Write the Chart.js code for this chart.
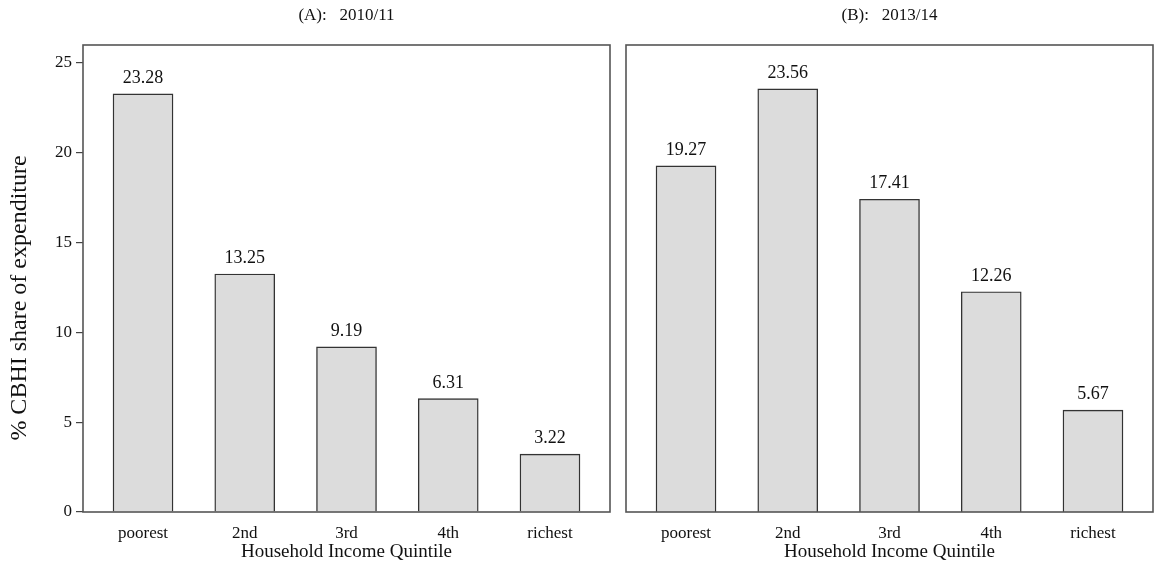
<!DOCTYPE html>
<html>
<head>
<meta charset="utf-8">
<script src="https://cdn.jsdelivr.net/npm/chart.js@4.4.1/dist/chart.umd.min.js"></script>
<style>
  html, body { margin: 0; padding: 0; background: #fff; }
  #wrap { position: relative; width: 1160px; height: 565px; }
  #cA { position: absolute; left: 0; top: 0; }
  #cB { position: absolute; left: 614px; top: 0; }
</style>
</head>
<body>
<div id="wrap">
  <canvas id="cA" width="614" height="565"></canvas>
  <canvas id="cB" width="546" height="565"></canvas>
</div>
<script>
// Quintile categories and CBHI share of expenditure (%)
const quintiles = ['poorest', '2nd', '3rd', '4th', 'richest'];
const share2010 = [23.28, 13.25, 9.19, 6.31, 3.22];
const share2013 = [19.27, 23.56, 17.41, 12.26, 5.67];
const panelTitles = ['(A):   2010/11', '(B):   2013/14'];
const yTicks = [0, 5, 10, 15, 20, 25];
const yTitle = '% CBHI share of expenditure';

const SERIF = '"Liberation Serif", "Times New Roman", serif';
const TEXT = '#111';

// Frame, panel heading, value labels and the shared y-axis caption
const panelDecor = {
  id: 'panelDecor',
  afterDatasetsDraw(chart, args, opts) {
    const { ctx, chartArea: a } = chart;
    ctx.save();
    ctx.strokeStyle = '#555';
    ctx.lineWidth = 1.6;
    ctx.strokeRect(a.left, a.top, a.right - a.left, a.bottom - a.top);

    ctx.fillStyle = TEXT;
    ctx.font = '17px ' + SERIF;
    ctx.textAlign = 'center';
    ctx.textBaseline = 'middle';
    ctx.fillText(opts.heading, (a.left + a.right) / 2, 16);

    ctx.font = '18px ' + SERIF;
    ctx.textBaseline = 'alphabetic';
    const meta = chart.getDatasetMeta(0);
    meta.data.forEach((bar, i) => {
      const v = chart.data.datasets[0].data[i].y;
      ctx.fillText(v.toFixed(2), bar.x, bar.y - 11);
    });

    if (opts.caption) {
      ctx.save();
      ctx.translate(20, 298);
      ctx.rotate(-Math.PI / 2);
      ctx.font = '24px ' + SERIF;
      ctx.textAlign = 'center';
      ctx.textBaseline = 'middle';
      ctx.fillText(opts.caption, 0, 0);
      ctx.restore();
    }
    ctx.restore();
  }
};

function makePanel(canvasId, values, heading, showY, padLeft, padRight) {
  const yAxisWidth = 83;
  return new Chart(document.getElementById(canvasId), {
    type: 'bar',
    data: {
      datasets: [{
        data: values.map((v, i) => ({ x: i, y: v })),
        backgroundColor: '#dcdcdc',
        borderColor: '#333',
        borderWidth: 1.4,
        borderSkipped: 'bottom',
        barThickness: 60
      }]
    },
    options: {
      responsive: false,
      animation: false,
      devicePixelRatio: 1,
      layout: { padding: { left: padLeft, right: padRight, top: 45, bottom: 0 } },
      plugins: {
        legend: { display: false },
        tooltip: { enabled: false },
        panelDecor: { heading: heading, caption: showY ? yTitle : null }
      },
      scales: {
        x: {
          type: 'linear',
          offset: false,
          min: -0.59,
          max: 4.59,
          afterBuildTicks: s => { s.ticks = quintiles.map((q, i) => ({ value: i })); },
          afterFit: s => { s.height = 53; },
          grid: { display: false, offset: false },
          border: { display: false },
          ticks: {
            autoSkip: false,
            maxRotation: 0,
            padding: 3,
            color: TEXT,
            font: { family: SERIF, size: 17 },
            callback: v => quintiles[v]
          },
          title: {
            display: true,
            text: 'Household Income Quintile',
            color: TEXT,
            font: { family: SERIF, size: 19 },
            padding: { top: 0, bottom: 2 }
          }
        },
        y: {
          display: showY,
          min: 0,
          max: 26,
          afterBuildTicks: s => { s.ticks = yTicks.map(v => ({ value: v })); },
          afterFit: s => { if (showY) s.width = yAxisWidth; },
          grid: {
            drawOnChartArea: false,
            drawTicks: true,
            tickLength: 7,
            color: '#444',
            lineWidth: 1.2
          },
          border: { display: false },
          ticks: {
            padding: 4,
            color: TEXT,
            font: { family: SERIF, size: 17 }
          }
        }
      }
    },
    plugins: [panelDecor]
  });
}

makePanel('cA', share2010, panelTitles[0], true, 0, 4);
makePanel('cB', share2013, panelTitles[1], false, 12, 7);
</script>
</body>
</html>
